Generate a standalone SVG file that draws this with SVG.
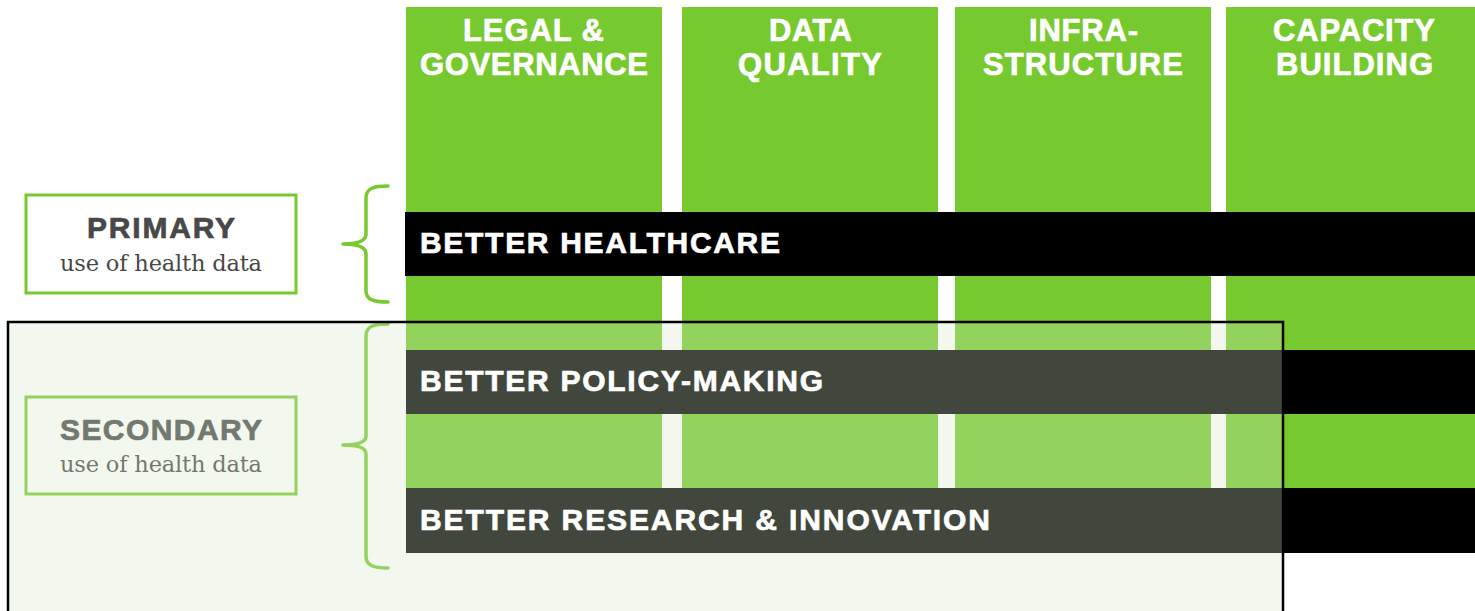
<svg xmlns="http://www.w3.org/2000/svg" width="1475" height="611" viewBox="0 0 1475 611">
<style>
.col{fill:#76c92e}
.bar{fill:#000}
.hd{font-family:"Liberation Sans",Arial,sans-serif;font-weight:bold;font-size:31px;fill:#fff;stroke:#fff;stroke-width:0.7;text-anchor:middle}
.bt{font-family:"Liberation Sans",Arial,sans-serif;font-weight:bold;font-size:30px;fill:#fff;stroke:#fff;stroke-width:0.7}
.lbox{fill:#fff;stroke:#76c92e;stroke-width:3}
.lt{font-family:"Liberation Sans",Arial,sans-serif;font-weight:bold;font-size:30px;fill:#484848;stroke:#484848;stroke-width:0.7;text-anchor:middle}
.ls{font-family:"DejaVu Serif",Georgia,serif;font-size:22.5px;fill:#484848;text-anchor:middle}
.brace{fill:none;stroke:#76c92e;stroke-width:3.5;stroke-linecap:round;stroke-linejoin:round}
</style>
<rect width="1475" height="611" fill="#fff"/>
<g id="col-legal"><rect class="col" x="406" y="7" width="256" height="481"/><text class="hd" x="533.5" y="41" textLength="141">LEGAL &amp;</text><text class="hd" x="534" y="75" textLength="228">GOVERNANCE</text></g>
<g id="col-data"><rect class="col" x="682" y="7" width="256" height="481"/><text class="hd" x="810.5" y="41" textLength="83">DATA</text><text class="hd" x="810" y="75" textLength="144">QUALITY</text></g>
<g id="col-infra"><rect class="col" x="955" y="7" width="256" height="481"/><text class="hd" x="1083.5" y="41" textLength="109">INFRA-</text><text class="hd" x="1083" y="75" textLength="200">STRUCTURE</text></g>
<g id="col-capacity"><rect class="col" x="1226" y="7" width="249" height="481"/><text class="hd" x="1354" y="41" textLength="162">CAPACITY</text><text class="hd" x="1354.5" y="75" textLength="157">BUILDING</text></g>
<g id="bar-healthcare"><rect class="bar" x="405" y="212" width="1070" height="64"/><text class="bt" x="420" y="253" textLength="360">BETTER HEALTHCARE</text></g>
<g id="bar-policy"><rect class="bar" x="406" y="350" width="1069" height="64"/></g>
<g id="bar-research"><rect class="bar" x="406" y="488" width="1069" height="65"/></g>
<g id="primary"><rect class="lbox" x="26" y="195" width="270" height="98"/><text class="lt" x="161" y="238" textLength="148">PRIMARY</text><text class="ls" x="161" y="271" textLength="202">use of health data</text></g>
<g id="secondary"><rect class="lbox" x="26" y="397" width="270" height="97"/><text class="lt" x="161" y="440" textLength="202">SECONDARY</text><text class="ls" x="161" y="472" textLength="202">use of health data</text></g>
<g id="connectors">
<path class="brace" d="M388,186 C374,186 366,188 366,198 L366,234 C366,241 358,244 343,244 C358,244 366,247 366,254 L366,291 C366,300 374,302 388,302"/>
<path class="brace" d="M388,324 C374,324 366,326 366,336 L366,436 C366,442 358,445 343,445 C358,445 366,448 366,454 L366,556 C366,566 374,568 388,568"/>
</g>
<g id="secondary-area"><rect x="8" y="322" width="1275" height="300" fill="#d6e8c8" fill-opacity="0.306" stroke="#000" stroke-width="2.5"/></g>
<g id="bar-labels"><text class="bt" x="420" y="391" textLength="403">BETTER POLICY-MAKING</text><text class="bt" x="420" y="530" textLength="570">BETTER RESEARCH &amp; INNOVATION</text></g>
</svg>
